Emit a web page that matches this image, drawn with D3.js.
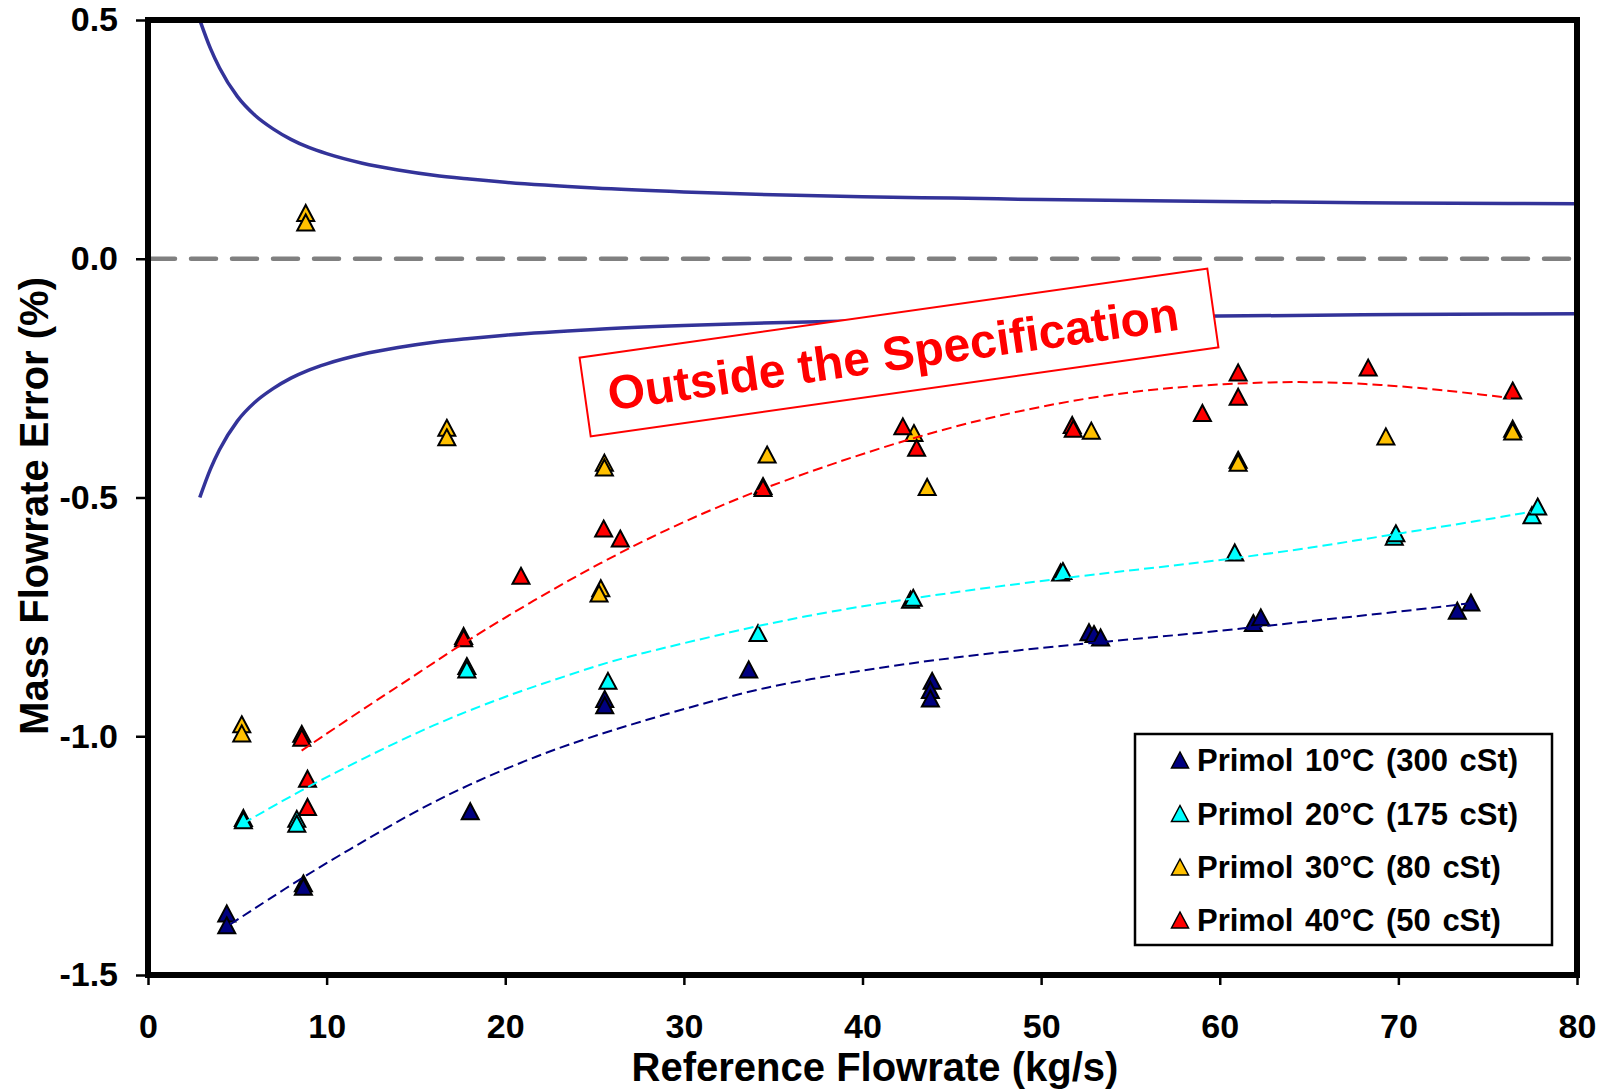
<!DOCTYPE html>
<html>
<head>
<meta charset="utf-8">
<script src="https://cdn.jsdelivr.net/npm/d3@7"></script>
<style>
  html, body { margin: 0; padding: 0; background: #ffffff; }
  svg { display: block; }
  text { font-family: "Liberation Sans", Arial, sans-serif; font-weight: bold; }
</style>
</head>
<body>
<script>
// Measured flowrate error vs reference flowrate, per oil temperature: [kg/s, %]
const primol10 = [[4.41,-1.371],[4.41,-1.396],[8.70,-1.308],[8.70,-1.315],[18.04,-1.157],
  [25.57,-0.922],[25.57,-0.935],[33.63,-0.860],[43.90,-0.884],[43.80,-0.903],[43.80,-0.921],
  [52.68,-0.782],[52.96,-0.786],[53.33,-0.793],[61.88,-0.763],[62.30,-0.751],[73.30,-0.737],[74.06,-0.720]];
const primol20 = [[5.34,-1.171],[5.34,-1.176],[8.33,-1.173],[8.33,-1.183],[17.85,-0.853],[17.85,-0.860],
  [25.75,-0.884],[34.15,-0.784],[42.69,-0.714],[42.84,-0.710],[51.09,-0.657],[51.22,-0.654],
  [60.84,-0.615],[69.77,-0.582],[69.86,-0.575],[77.48,-0.537],[77.80,-0.519]];
const primol30 = [[5.25,-0.975],[5.25,-0.994],[8.83,0.096],[8.83,0.076],[16.73,-0.354],[16.73,-0.374],
  [25.35,-0.690],[25.25,-0.701],[25.55,-0.427],[25.55,-0.437],[34.66,-0.410],[42.88,-0.365],
  [43.62,-0.478],[52.81,-0.360],[61.03,-0.421],[61.03,-0.427],[69.30,-0.372],[76.40,-0.356],[76.40,-0.362]];
const primol40 = [[8.61,-0.995],[8.61,-1.003],[8.93,-1.089],[8.93,-1.148],[17.67,-0.790],[17.67,-0.795],
  [20.88,-0.664],[25.51,-0.565],[26.44,-0.586],[34.43,-0.476],[34.43,-0.480],[42.26,-0.351],[43.03,-0.396],
  [51.74,-0.348],[51.80,-0.356],[59.03,-0.323],[61.03,-0.238],[61.03,-0.289],[68.31,-0.228],[76.40,-0.276]];

// Polynomial trendlines of each temperature series
const trend10 = [[4.6,-1.394],[8.7,-1.294],[11.7,-1.228],[14.9,-1.158],[17.9,-1.102],[21.6,-1.043],
  [25.3,-0.994],[32.8,-0.912],[36.5,-0.883],[44.0,-0.838],[52.6,-0.805],[58.9,-0.784],[65.5,-0.757],
  [70.1,-0.739],[73.9,-0.722]];
const trend20 = [[5.3,-1.183],[8.9,-1.106],[12.25,-1.043],[16.0,-0.975],[19.7,-0.921],[21.6,-0.896],
  [25.3,-0.850],[27.2,-0.830],[32.8,-0.780],[36.5,-0.750],[42.7,-0.710],[51.1,-0.669],[56.1,-0.648],
  [60.8,-0.628],[65.5,-0.603],[70.1,-0.575],[74.8,-0.547],[77.4,-0.530]];
const trend40 = [[8.6,-1.030],[12.25,-0.938],[14.1,-0.893],[16.0,-0.846],[17.85,-0.800],[21.6,-0.715],
  [25.3,-0.637],[29.06,-0.566],[32.8,-0.505],[36.5,-0.452],[43.25,-0.368],[49.6,-0.310],[55.2,-0.276],
  [60.4,-0.261],[64.5,-0.257],[68.1,-0.261],[72.0,-0.273],[74.8,-0.285],[76.3,-0.292]];

// Specification limits (upper and lower)
const specFlow  = [2.9, 3.5, 4, 5, 6, 7, 8, 9, 10, 12, 14, 16, 18, 20, 25, 30, 35, 40, 45, 50, 60, 70, 80];
const specUpper = [0.50, 0.44, 0.40, 0.34, 0.30, 0.272, 0.25, 0.233, 0.22, 0.20, 0.186, 0.175, 0.167,
  0.16, 0.148, 0.14, 0.134, 0.13, 0.127, 0.124, 0.12, 0.117, 0.115];
const specLower = [-0.50, -0.44, -0.40, -0.34, -0.30, -0.272, -0.25, -0.233, -0.22, -0.20, -0.186, -0.175,
  -0.167, -0.16, -0.148, -0.14, -0.134, -0.13, -0.127, -0.124, -0.12, -0.117, -0.115];

const xTicks = [0, 10, 20, 30, 40, 50, 60, 70, 80];
const xTickLabels = ["0", "10", "20", "30", "40", "50", "60", "70", "80"];
const yTicks = [-1.5, -1.0, -0.5, 0.0, 0.5];
const yTickLabels = ["-1.5", "-1.0", "-0.5", "0.0", "0.5"];

const seriesNames = ["Primol 10°C (300 cSt)", "Primol 20°C (175 cSt)", "Primol 30°C (80 cSt)", "Primol 40°C (50 cSt)"];
const seriesColors = ["#000080", "#00FFFF", "#FFC000", "#FF0000"];
const annotationText = "Outside the Specification";

const W = 1602, H = 1091;
const plot = { left: 148, right: 1577, top: 20, bottom: 975 };

const svg = d3.select("body").append("svg").attr("width", W).attr("height", H);

const x = d3.scaleLinear().domain([0, 80]).range([plot.left, plot.right]);
const y = d3.scaleLinear().domain([-1.5, 0.5]).range([plot.bottom, plot.top]);

svg.append("defs").append("clipPath").attr("id", "plotclip")
  .append("rect").attr("x", plot.left).attr("y", plot.top)
  .attr("width", plot.right - plot.left).attr("height", plot.bottom - plot.top);

const g = svg.append("g").attr("clip-path", "url(#plotclip)");

// zero reference line
g.append("line")
  .attr("x1", plot.left).attr("x2", plot.right)
  .attr("y1", y(0)).attr("y2", y(0))
  .attr("stroke", "#808080").attr("stroke-width", 4.5)
  .attr("stroke-dasharray", "25,16").attr("stroke-linecap", "round")
  .attr("stroke-dashoffset", -2);

// specification limit curves
const specLine = d3.line().x(d => x(d[0])).y(d => y(d[1])).curve(d3.curveMonotoneX);
[specUpper, specLower].forEach(vals => {
  g.append("path")
    .datum(specFlow.map((f, i) => [f, vals[i]]))
    .attr("d", specLine)
    .attr("fill", "none").attr("stroke", "#333399").attr("stroke-width", 3.5);
});

// triangle marker
function tri(cx, cy) {
  return `M${cx},${cy - 8} L${cx + 8.5},${cy + 8} L${cx - 8.5},${cy + 8} Z`;
}

[primol10, primol20, primol30, primol40].forEach((data, k) => {
  g.append("g").selectAll("path").data(data).join("path")
    .attr("d", d => tri(x(d[0]), y(d[1])))
    .attr("fill", seriesColors[k])
    .attr("stroke", "#000").attr("stroke-width", 2).attr("stroke-linejoin", "miter");
});

// trendlines
const trendLine = d3.line().x(d => x(d[0])).y(d => y(d[1])).curve(d3.curveBasis);
[[trend10, seriesColors[0]], [trend20, seriesColors[1]], [trend40, seriesColors[3]]].forEach(([pts, col]) => {
  g.append("path").datum(pts).attr("d", trendLine)
    .attr("fill", "none").attr("stroke", col).attr("stroke-width", 2)
    .attr("stroke-dasharray", "10,5");
});

// frame
svg.append("rect")
  .attr("x", plot.left).attr("y", plot.top)
  .attr("width", plot.right - plot.left).attr("height", plot.bottom - plot.top)
  .attr("fill", "none").attr("stroke", "#000").attr("stroke-width", 6);

// axes
const yAxis = d3.axisLeft(y).tickValues(yTicks).tickSize(12).tickPadding(18)
  .tickFormat((d, i) => yTickLabels[i]);
const yg = svg.append("g").attr("transform", `translate(${plot.left},0)`).call(yAxis);
const xAxis = d3.axisBottom(x).tickValues(xTicks).tickSize(10).tickPadding(29)
  .tickFormat((d, i) => xTickLabels[i]);
const xg = svg.append("g").attr("transform", `translate(0,${plot.bottom})`).call(xAxis);
[yg, xg].forEach(a => {
  a.select(".domain").remove();
  a.selectAll(".tick line").attr("stroke", "#000").attr("stroke-width", 2.5);
  a.selectAll(".tick text").attr("fill", "#000").style("font-size", "34px")
    .style("font-family", "'Liberation Sans', Arial, sans-serif").style("font-weight", "bold");
});

// axis titles
svg.append("text")
  .attr("x", 875).attr("y", 1081)
  .attr("text-anchor", "middle").style("font-size", "40px").attr("fill", "#000")
  .text("Reference Flowrate (kg/s)");
svg.append("text")
  .attr("transform", "translate(48,506) rotate(-90)")
  .attr("text-anchor", "middle").style("font-size", "40px").attr("fill", "#000")
  .text("Mass Flowrate Error (%)");

// annotation box
const box = svg.append("g").attr("transform", "translate(899,352.5) rotate(-8.07)");
box.append("rect")
  .attr("x", -317).attr("y", -39.7).attr("width", 634).attr("height", 79.4)
  .attr("fill", "#fff").attr("stroke", "#FF0000").attr("stroke-width", 2);
box.append("text")
  .attr("x", -6).attr("y", 17).attr("text-anchor", "middle")
  .attr("fill", "#FF0000").style("font-size", "48px")
  .text(annotationText);

// legend
const lg = svg.append("g");
lg.append("rect").attr("x", 1135).attr("y", 734).attr("width", 417).attr("height", 211)
  .attr("fill", "#fff").attr("stroke", "#000").attr("stroke-width", 2.5);
const rowY = [760, 813.5, 867, 920];
seriesNames.forEach((name, i) => {
  lg.append("path").attr("d", tri(1180, rowY[i]))
    .attr("fill", seriesColors[i]).attr("stroke", "#000").attr("stroke-width", 1.5);
  lg.append("text").attr("x", 1197).attr("y", rowY[i] + 11)
    .style("font-size", "31px").style("word-spacing", "3px").attr("fill", "#000")
    .text(name);
});
</script>
</body>
</html>
